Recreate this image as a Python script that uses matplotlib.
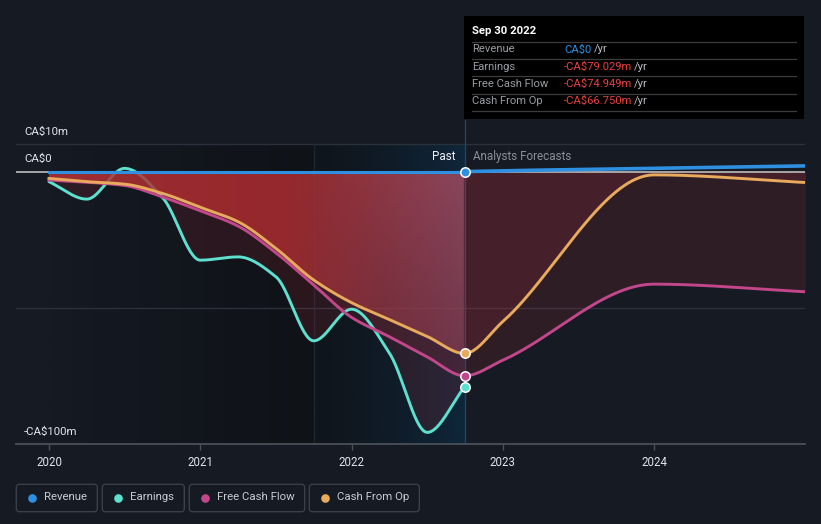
import numpy as np
import matplotlib
matplotlib.use('Agg')
import matplotlib.pyplot as plt
import matplotlib.transforms as mtransforms
from matplotlib.patches import FancyBboxPatch, Rectangle

plt.rcParams['font.family'] = ['Roboto', 'DejaVu Sans']

# ---------------- data ----------------
past_dates = [2020.0, 2020.25, 2020.5, 2020.75, 2021.0, 2021.25, 2021.5, 2021.75,
              2022.0, 2022.25, 2022.5, 2022.747]
earnings = [-3.7, -10.1, 1.2, -9.5, -32.5, -31.3, -38.6, -62.1, -50.5, -66.6, -95.7, -79.029]
fcf_past = [-3.1, -3.9, -5.1, -9.3, -14.4, -20.0, -29.8, -41.6, -53.5, -60.6, -68.0, -74.949]
cfo_past = [-2.5, -3.7, -4.6, -8.0, -13.1, -18.4, -28.2, -39.8, -48.1, -54.3, -60.5, -66.750]
revenue_past = [0.0] * 12

fc_dates = [2022.747, 2023.0, 2024.0, 2025.0]
fcf_fc = [-74.949, -69.2, -41.3, -44.1]
cfo_fc = [-66.750, -55.0, -1.2, -4.0]
revenue_fc = [0.0, 0.3, 1.2, 2.1]

year_ticks = [2020, 2021, 2022, 2023, 2024]
y_labels = ["CA$10m", "CA$0", "-CA$100m"]
legend_names = ["Revenue", "Earnings", "Free Cash Flow", "Cash From Op"]
tooltip_rows = [("Revenue", "CA$0"), ("Earnings", "-CA$79.029m"),
                ("Free Cash Flow", "-CA$74.949m"), ("Cash From Op", "-CA$66.750m")]

# ---------------- styles ----------------
BG = '#151a23'
C_REV = '#2f8fe0'
C_EARN = '#5ee0cf'
C_FCF = '#c2478a'
C_CFO = '#e8aa5c'
colors = [C_REV, C_EARN, C_FCF, C_CFO]


def pchip(x, y, n=600):
    x = np.asarray(x, float); y = np.asarray(y, float)
    h = np.diff(x); d = np.diff(y) / h
    m = np.zeros_like(y)
    for k in range(1, len(x) - 1):
        if d[k - 1] * d[k] > 0:
            w1 = 2 * h[k] + h[k - 1]; w2 = h[k] + 2 * h[k - 1]
            m[k] = (w1 + w2) / (w1 / d[k - 1] + w2 / d[k])
    m[0] = d[0]; m[-1] = d[-1]
    xs = np.linspace(x[0], x[-1], n)
    idx = np.clip(np.searchsorted(x, xs, side='right') - 1, 0, len(h) - 1)
    t = (xs - x[idx]) / h[idx]
    h00 = 2 * t**3 - 3 * t**2 + 1; h10 = t**3 - 2 * t**2 + t
    h01 = -2 * t**3 + 3 * t**2; h11 = t**3 - t**2
    ys = h00 * y[idx] + h10 * h[idx] * m[idx] + h01 * y[idx + 1] + h11 * h[idx] * m[idx + 1]
    return xs, ys


W, H = 821, 524
fig = plt.figure(figsize=(W / 100, H / 100), dpi=100, facecolor=BG)

X0, X1 = 2019.782, 2024.997
Y0, Y1 = -100.0, 18.94
ax = fig.add_axes([16 / W, 1 - 444.1 / H, 789 / W, 324.1 / H])
ax.set_facecolor(BG)
ax.set_xlim(X0, X1)
ax.set_ylim(Y0, Y1)
for s in ['left', 'right', 'top']:
    ax.spines[s].set_visible(False)
ax.spines['bottom'].set_color('#4a4f58')
ax.spines['bottom'].set_linewidth(1.3)
ax.set_yticks([])
ax.set_xticks(year_ticks)
ax.set_xticklabels([str(y) for y in year_ticks])
ax.tick_params(axis='x', colors='#4a4f58', length=4, width=1, pad=4.5,
               labelcolor='#e2e5ea', labelsize=8.3)

# background shading
past_start, hl_start, now = 2020.0, 2021.75, 2022.747
g1 = np.linspace(0, 1, 256)
c_a = np.array([0x15, 0x1a, 0x23]) / 255; c_b = np.array([0x0f, 0x12, 0x17]) / 255
img1 = (c_a[None, :] * (1 - g1[:, None]) + c_b[None, :] * g1[:, None])[None, :, :]
ax.imshow(img1, extent=[past_start, hl_start, Y0, 10], aspect='auto', zorder=0.2,
          interpolation='bilinear')
c_c = np.array([0x0f, 0x15, 0x1b]) / 255; c_d = np.array([0x0f, 0x26, 0x3a]) / 255
g2 = np.linspace(0, 1, 256) ** 1.3
img2 = (c_c[None, :] * (1 - g2[:, None]) + c_d[None, :] * g2[:, None])[None, :, :]
ax.imshow(img2, extent=[hl_start, now, Y0, 10], aspect='auto', zorder=0.2,
          interpolation='bilinear')

# grid lines
for gy in [10, -50]:
    ax.axhline(gy, color='#2b313b', lw=1, zorder=0.5)
ax.plot([hl_start, hl_start], [Y0, 10], color='#1b2633', lw=1, zorder=0.6)
ax.plot([now, now], [Y0, Y1], color='#1f4567', lw=1, zorder=0.6)

# interpolated series
ex, ey = pchip(past_dates, earnings)
fx, fy = pchip(past_dates + fc_dates[1:], fcf_past + fcf_fc[1:], 900)
cx, cy = pchip(past_dates + fc_dates[1:], cfo_past + cfo_fc[1:], 900)
rpx, rpy = pchip(past_dates, revenue_past)
rfx, rfy = pchip(fc_dates, revenue_fc)

RED = '#d0303e'
ax.fill_between(ex, 0, ey, color=RED, alpha=0.14, lw=0, zorder=1)
ax.fill_between(fx, 0, fy, color=RED, alpha=0.14, lw=0, zorder=1)
ax.fill_between(cx, 0, cy, color=RED, alpha=0.14, lw=0, zorder=1)

# earnings line (under the bright gradient)
ax.plot(ex, ey, color=C_EARN, lw=2.1, zorder=2, solid_capstyle='round')

# bright red gradient, clipped to 0..CFO in the past
mask = cx <= now + 1e-9
clip_coll = ax.fill_between(cx[mask], 0, cy[mask], facecolor='none', edgecolor='none')
nx, ny = 300, 120
gx = np.linspace(past_start, now, nx)
gy = np.linspace(-72, 0, ny)
stops_x = [2020.0, 2021.5, 2021.75, 2022.747]
stops_c = np.array([[176, 50, 54], [166, 44, 46], [160, 48, 54], [150, 78, 102]]) / 255
rgb = np.stack([np.interp(gx, stops_x, stops_c[:, k]) for k in range(3)], axis=-1)
img = np.zeros((ny, nx, 4))
img[:, :, :3] = rgb[None, :, :]
wx = np.clip((gx - 2021.6) / 0.6, 0, 1)
depth = (-gy / 72)[:, None]
img[:, :, 3] = 0.8 - 0.42 * wx[None, :] * depth
im = ax.imshow(img, extent=[past_start, now, -72, 0], origin='lower', aspect='auto',
               zorder=2.5, interpolation='bilinear')
im.set_clip_path(clip_coll.get_paths()[0], ax.transData)

# zero line
ax.axhline(0, color='#b4b0b0', lw=1.3, zorder=3)

ax.plot(fx, fy, color=C_FCF, lw=2.1, zorder=3.2)
ax.plot(cx, cy, color=C_CFO, lw=2.1, zorder=3.3)
ax.plot(rpx, rpy, color=C_REV, lw=2.2, zorder=3.5)
ax.plot(rfx, rfy, color=C_REV, lw=2.6, zorder=3.5)

for val, col in [(revenue_past[-1], C_REV), (cfo_past[-1], C_CFO),
                 (fcf_past[-1], C_FCF), (earnings[-1], C_EARN)]:
    ax.plot([now], [val], 'o', ms=6.8, mfc=col, mec='white', mew=1.1, zorder=6, clip_on=False)

# y labels
btr = mtransforms.blended_transform_factory(ax.transAxes, ax.transData)
for lab, yv in zip(y_labels, [14.4, 4.5, -95.7]):
    ax.text((24 - 16) / 789, yv, lab, transform=btr,
            color='#e2e5ea', fontsize=8.2, va='center', ha='left', zorder=7, parse_math=False)

ax.text(2022.687, 5.7, "Past", color='#f0f2f5', fontsize=8.4, ha='right', va='center', zorder=7)
ax.text(2022.80, 5.7, "Analysts Forecasts", color='#8a8f98', fontsize=8.4, ha='left',
        va='center', zorder=7)

# ---------------- overlay: tooltip + legend ----------------
ov = fig.add_axes([0, 0, 1, 1], zorder=10)
ov.set_xlim(0, W); ov.set_ylim(H, 0); ov.axis('off'); ov.patch.set_alpha(0)

ov.add_patch(Rectangle((464, 16), 340, 103, facecolor='black', edgecolor='none'))
ov.text(472, 31, "Sep 30 2022", color='white', fontsize=8.2, fontweight='bold',
        va='center', ha='left')
for yy in [41.5, 58.5, 76.2, 93.8, 111]:
    ov.plot([472, 796], [yy, yy], color='#3c3c3c', lw=0.9)
row_y = [49.5, 66.5, 84, 101]
slash_x = [593.5, 634, 634, 634]
for (lab, val), yy, sx, vc in zip(tooltip_rows, row_y, slash_x,
                                  [C_REV, '#e8403e', '#e8403e', '#e8403e']):
    ov.text(472, yy, lab, color='#9a9da3', fontsize=8.1, va='center', ha='left')
    ov.text(564, yy, val, color=vc, fontsize=8.1, va='center', ha='left', parse_math=False)
    ov.text(sx, yy, "/yr", color='#b8bbc0', fontsize=8.1, va='center', ha='left')

boxes = [(16.3, 97.3), (102.3, 184.3), (189.3, 304.7), (309.3, 419.3)]
for (bx0, bx1), name, col in zip(boxes, legend_names, colors):
    ov.add_patch(FancyBboxPatch((bx0, 484.3), bx1 - bx0, 27.4,
                                boxstyle='round,pad=0,rounding_size=3',
                                facecolor='none', edgecolor='#3a3f49', lw=1))
    ov.plot([bx0 + 16], [497.5], 'o', ms=6.2, color=col, mec='none')
    ov.text(bx0 + 28, 497.5, name, color='#c9ccd1', fontsize=8.2, va='center', ha='left')

fig.savefig('out.png', dpi=100, facecolor=BG)
